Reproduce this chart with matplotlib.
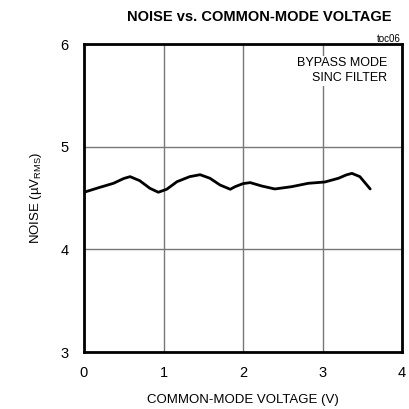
import matplotlib
matplotlib.use("Agg")
import matplotlib.pyplot as plt
from matplotlib import font_manager

fams = {f.name for f in font_manager.fontManager.ttflist}
fam = ['Liberation Sans Narrow'] if 'Liberation Sans Narrow' in fams else ['Liberation Sans']
plt.rcParams['font.family'] = fam + ['DejaVu Sans']

vcm = [0.0, 0.20, 0.37, 0.50, 0.58, 0.70, 0.83, 0.935, 1.04, 1.17, 1.33, 1.46, 1.585, 1.71, 1.84,
       1.90, 2.0, 2.09, 2.235, 2.40, 2.61, 2.82, 3.03, 3.20, 3.30, 3.37, 3.47, 3.60]
noise = [4.556, 4.604, 4.643, 4.690, 4.708, 4.669, 4.594, 4.556, 4.585, 4.659, 4.708, 4.727, 4.692, 4.627, 4.585,
         4.61, 4.64, 4.65, 4.617, 4.588, 4.61, 4.643, 4.656, 4.692, 4.725, 4.74, 4.708, 4.588]
xticks = [0, 1, 2, 3, 4]
yticks = [3, 4, 5, 6]

fig = plt.figure(figsize=(4.09, 4.09), dpi=100)
ax = fig.add_axes([84/409, 1-352/409, 318/409, 308/409])
ax.plot(vcm, noise, color='black', lw=2, zorder=3, solid_joinstyle='round', solid_capstyle='round')
ax.set_xlim(0, 4)
ax.set_ylim(3, 6)
ax.set_xticks(xticks)
ax.set_yticks(yticks)
ax.grid(True, color='#777777', lw=1)
ax.tick_params(length=0, labelsize=10.5)
ax.tick_params(axis='x', pad=10)
ax.tick_params(axis='y', pad=11)
for s in ax.spines.values():
    s.set_linewidth(2)
ax.set_xlabel('COMMON-MODE VOLTAGE (V)', fontsize=9.5, labelpad=10)
ax.set_ylabel('NOISE (µV$_{\\mathregular{RMS}}$)', fontsize=9.5, labelpad=12)
fig.text(259/409, 1-17/409, 'NOISE vs. COMMON-MODE VOLTAGE', ha='center', va='center', fontsize=10.5, fontweight='bold')
fig.text(401/409, 1-39/409, 'toc06', ha='right', va='center', fontsize=7)
ax.text((387-84)/318, (352-57)/308, 'BYPASS MODE\nSINC FILTER', transform=ax.transAxes, ha='right', va='top',
        fontsize=9, linespacing=1.35, bbox=dict(facecolor='white', edgecolor='none', pad=1), zorder=4)
fig.savefig('out.png', dpi=100)
